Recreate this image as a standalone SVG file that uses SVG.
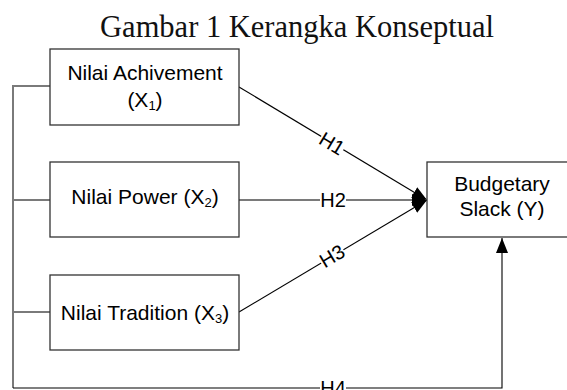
<svg xmlns="http://www.w3.org/2000/svg" width="567" height="390" viewBox="0 0 567 390">
<style>
.box{fill:#fff;stroke:#333;stroke-width:1.3}
.t{font-family:"Liberation Sans",Arial,sans-serif;font-size:21px;fill:#000;text-anchor:middle}
.title{font-family:"Liberation Serif","Times New Roman",serif;font-size:30.5px;fill:#111;text-anchor:middle}
.g{fill:none;stroke:#7a7a7a;stroke-width:2}
.k{fill:none;stroke:#000;stroke-width:1.1}
.lb{fill:#fff}
.h{font-family:"Liberation Sans",Arial,sans-serif;font-size:20px;fill:#000;text-anchor:middle}
</style>
<defs>
<marker id="arr" markerUnits="userSpaceOnUse" markerWidth="15" markerHeight="12" refX="15" refY="6" orient="auto">
<path d="M0,0 L15,6 L0,12 z" fill="#000"/>
</marker>
</defs>
<rect width="567" height="390" fill="#fff"/>
<text class="title" x="297" y="37">Gambar 1 Kerangka Konseptual</text>
<g id="connectors">
<path class="g" d="M50,86 H13 V388"/>
<path class="g" d="M13,200 H50"/>
<path class="g" d="M13,312 H50"/>
<path class="k" d="M13,388 H502 V238" marker-end="url(#arr)"/>
<path class="k" d="M239,87 L427,200" marker-end="url(#arr)"/>
<path class="g" d="M239,200 H427" marker-end="url(#arr)"/>
<path class="k" d="M239,312 L427,200" marker-end="url(#arr)"/>
<g transform="translate(332,143.5) rotate(31)"><rect class="lb" x="-13" y="-8" width="26" height="16"/><text class="h" x="0" y="7">H1</text></g>
<g transform="translate(333,200)"><rect class="lb" x="-13" y="-8" width="26" height="16"/><text class="h" x="0" y="7">H2</text></g>
<g transform="translate(332,256) rotate(-31)"><rect class="lb" x="-13" y="-8" width="26" height="16"/><text class="h" x="0" y="7">H3</text></g>
<g transform="translate(333,388)"><rect class="lb" x="-13" y="-8" width="26" height="16"/><text class="h" x="0" y="7">H4</text></g>
</g>
<g id="x1">
<rect class="box" x="50" y="49" width="189" height="76"/>
<text class="t" x="145" y="80">Nilai Achivement</text>
<text class="t" x="145" y="107">(X<tspan font-size="13" dy="3">1</tspan><tspan dy="-3">)</tspan></text>
</g>
<g id="x2">
<rect class="box" x="50" y="162" width="189" height="75"/>
<text class="t" x="145" y="204">Nilai Power (X<tspan font-size="13" dy="3">2</tspan><tspan dy="-3">)</tspan></text>
</g>
<g id="x3">
<rect class="box" x="50" y="275" width="189" height="75"/>
<text class="t" x="145" y="320">Nilai Tradition (X<tspan font-size="13" dy="3">3</tspan><tspan dy="-3">)</tspan></text>
</g>
<g id="y">
<rect class="box" x="427" y="162" width="150" height="75"/>
<text class="t" x="502" y="191">Budgetary</text>
<text class="t" x="502" y="216">Slack (Y)</text>
</g>
</svg>
